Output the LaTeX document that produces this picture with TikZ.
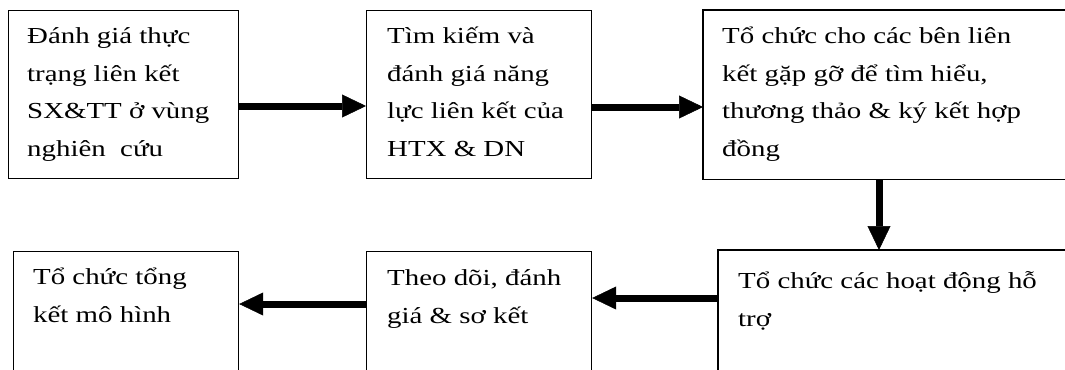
\documentclass[tikz,border=0pt]{standalone}
\usepackage{fontspec}
\setmainfont{Liberation Serif}[FakeStretch=1.26]
\usetikzlibrary{arrows.meta,calc}
\newcommand{\fstrut}{\rule{0pt}{25bp}}
\begin{document}
\begin{tikzpicture}[x=1bp,y=-1bp,
  box/.style={draw=black,line width=1.2bp,rectangle,inner sep=0pt,anchor=north west},
  openbox/.style={box,draw=none},
  edge/.style={draw=black,line width=1.2bp},
  txt/.style={anchor=north west,inner sep=0pt,align=left,font=\fontsize{23}{38}\selectfont},
  arr/.style={line width=7bp,-{Triangle[length=24bp,width=23bp,line width=0.5bp]}}]
\useasboundingbox (0,0) rectangle (1065,369);
\fill[white] (0,0) rectangle (1065,369);
% boxes
\node[box,minimum width=230bp,minimum height=168bp] (b1) at (8,10) {};
\node[box,minimum width=225bp,minimum height=168bp] (b2) at (366,10) {};
\node[openbox,minimum width=420bp,minimum height=168bp] (b3) at (703,10) {};
\node[box,minimum width=225bp,minimum height=140bp] (b4) at (13,251) {};
\node[box,minimum width=225bp,minimum height=140bp] (b5) at (366,251) {};
\node[openbox,minimum width=420bp,minimum height=140bp] (b6) at (718,250) {};
\path[edge] (b3.north east) -- (b3.north west) -- (b3.south west) -- (b3.south east);
\path[edge] (b6.north east) -- (b6.north west) -- (b6.south west);
% texts
\node[txt] (t1) at (27,18) {\fstrut Đánh giá thực\\trạng liên kết\\SX\&TT ở vùng\\nghiên\ \ cứu};
\node[txt] (t2) at (387,18) {\fstrut Tìm kiếm và\\đánh giá năng\\lực liên kết của\\HTX \& DN};
\node[txt] (t3) at (722,18) {\fstrut Tổ chức cho các bên liên\\kết gặp gỡ để tìm hiểu,\\thương thảo \& ký kết hợp\\đồng};
\node[txt] (t4) at (33,259) {\fstrut Tổ chức tổng\\kết mô hình};
\node[txt] (t5) at (387,260) {\fstrut Theo dõi, đánh\\giá \& sơ kết};
\node[txt] (t6) at (738,263) {\fstrut Tổ chức các hoạt động hỗ\\trợ};
% arrows
\coordinate (r1) at (0,106);
\coordinate (r1b) at (0,107);
\coordinate (c3) at (879,0);
\coordinate (r2) at (0,298);
\coordinate (r3) at (0,304);
\draw[arr] (b1.east |- r1) -- (b2.west |- r1);
\draw[arr] (b2.east |- r1b) -- (b3.west |- r1b);
\draw[arr] (b3.south -| c3) -- (b6.north -| c3);
\draw[arr] (b6.west |- r2) -- (b5.east |- r2);
\draw[arr] (b5.west |- r3) -- (b4.east |- r3);
\end{tikzpicture}
\end{document}
